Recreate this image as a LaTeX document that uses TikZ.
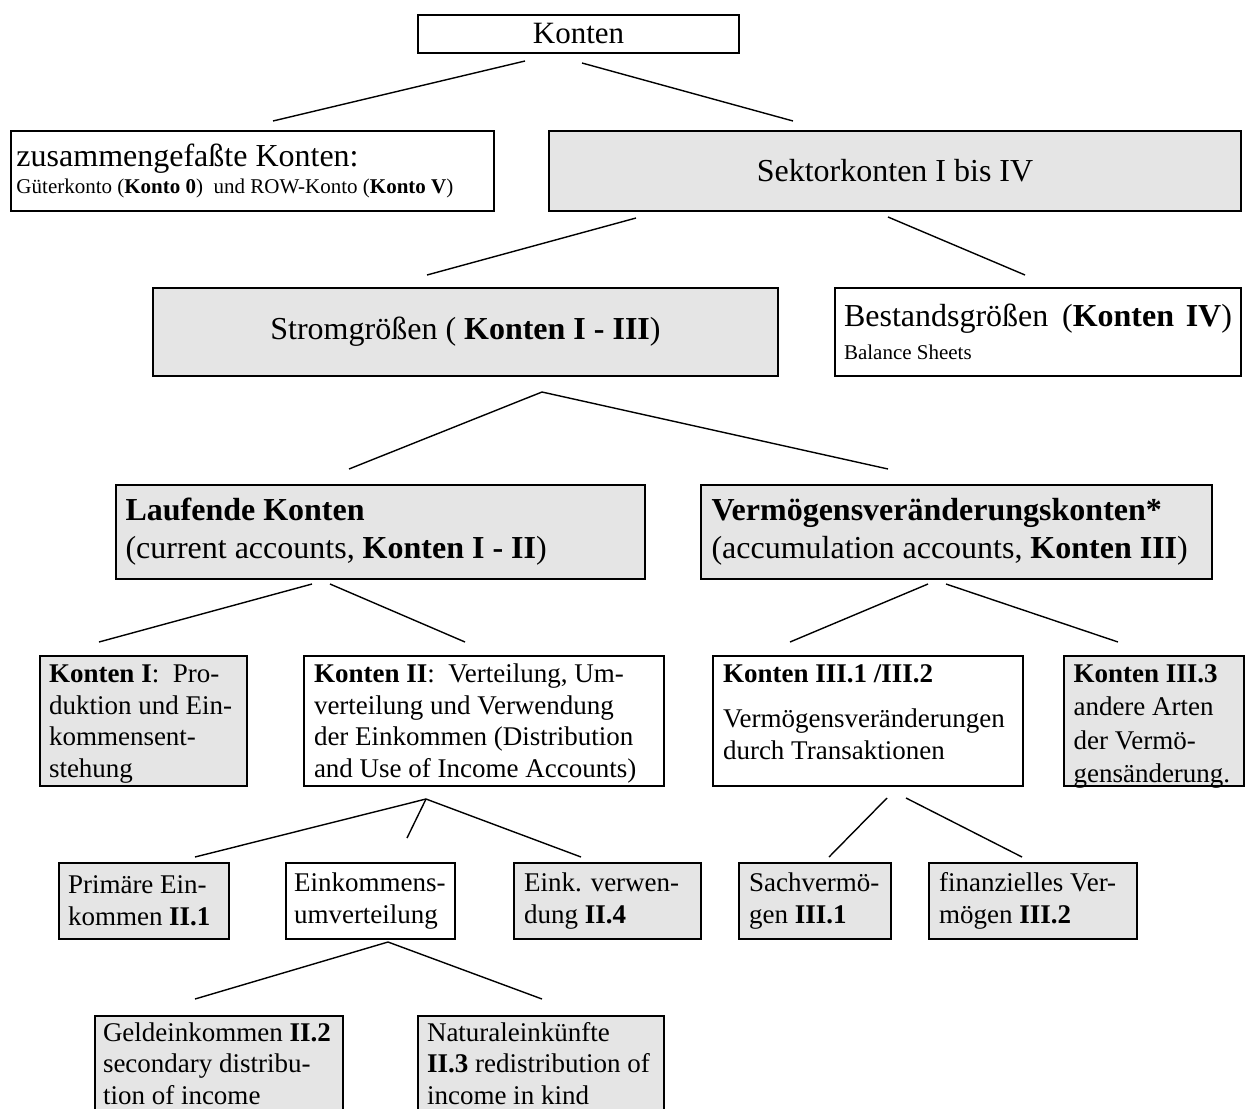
\documentclass[tikz,border=0pt]{standalone}
\usepackage{fontspec}
\setmainfont{Liberation Serif}
\definecolor{boxgray}{RGB}{229,229,229}
\newcommand\nsp{\spaceskip=0pt\xspaceskip=0pt\relax}
\begin{document}
\begin{tikzpicture}[x=0.5pt,y=-0.5pt,
  box/.style={draw=black, line width=1pt, inner sep=0pt, anchor=north west, align=flush left},
  gbox/.style={box, fill=boxgray},
  sz/.style 2 args={minimum width=#1pt, minimum height=#2pt},
  big/.style={font=\fontsize{16}{19}\selectfont},
  body/.style={font=\fontsize{13.5}{15.85}\selectfont},
  conn/.style={line width=0.7pt},
]
\useasboundingbox (0,0) rectangle (1245,1108);
\clip (0,0) rectangle (1245,1108);

% ---------- boxes ----------
\node[box, sz={160.5}{19}, align=center, font=\fontsize{15.5}{18}\selectfont] (konten) at (417,14) {Konten};

\node[box, sz={241.5}{40}, text width=236pt, font=\fontsize{10.5}{13.5}\selectfont] (zus) at (10,130)
  {\nsp{\fontsize{16}{19}\selectfont zusammengefaßte Konten:}\\Güterkonto (\textbf{Konto 0})\ \ und ROW-Konto (\textbf{Konto V})};

\node[gbox, sz={346}{40}, big, align=center] (sektor) at (548,130) {Sektorkonten I bis IV};

\node[gbox, sz={312.5}{44}, big, align=center] (strom) at (152,287) {Stromgrößen ( \textbf{Konten I - III})};

\node[box, sz={203}{44}, text width=194pt, font=\fontsize{10.5}{16.5}\selectfont] (bestand) at (834,287)
  {\nsp{\fontsize{16}{19}\selectfont Bestandsgrößen\hspace{3pt} (\textbf{Konten\hspace{2pt} IV})}\\Balance Sheets};

\node[gbox, sz={264.5}{47}, text width=255pt, big] (lauf) at (115,484)
  {\nsp\textbf{Laufende Konten}\\(current accounts, \textbf{Konten I - II})};

\node[gbox, sz={255.5}{47}, text width=245pt, big] (verm) at (700,484)
  {\nsp\textbf{Vermögensveränderungskonten*}\\(accumulation accounts, \textbf{Konten III})};

\node[gbox, sz={103.5}{65}, text width=94.5pt, text height=12pt, body] (k1) at (39,655)
  {\nsp\textbf{Konten I}:\ \ Pro-\\duktion und Ein-\\kommensent-\\stehung};

\node[box, sz={180}{65}, text width=170pt, text height=12pt, body] (k2) at (303,655)
  {\nsp\textbf{Konten II}:\ \ Verteilung, Um-\\verteilung und Verwendung\\der Einkommen (Distribution\\and Use of Income Accounts)};

\node[box, sz={155}{65}, text width=145pt, text depth=47.3pt, body] (k31) at (712,655)
  {\nsp\textbf{Konten III.1 /III.2}\\[6.5pt]Vermögensveränderungen\\durch Transaktionen};

\node[gbox, sz={90}{65}, text width=80.5pt, text depth=47.3pt, font=\fontsize{13.5}{16.65}\selectfont] (k33) at (1063,655)
  {\nsp\textbf{Konten III.3}\\andere Arten\\der Vermö-\\gensänderung.};

\node[gbox, sz={85}{38}, text width=76pt, body] (prim) at (58,862)
  {\nsp Primäre Ein-\\kommen \textbf{II.1}};

\node[box, sz={84.5}{38}, text width=76.5pt, body] (eum) at (285,862)
  {\nsp Einkommens-\\umverteilung};

\node[gbox, sz={93.5}{38}, text width=83.5pt, body] (everw) at (513,862)
  {\nsp Eink. verwen-\\dung \textbf{II.4}};

\node[gbox, sz={76}{38}, text width=66pt, body] (sach) at (738,862)
  {\nsp Sachvermö-\\gen \textbf{III.1}};

\node[gbox, sz={104}{38}, text width=94pt, body] (fin) at (928,862)
  {\nsp finanzielles Ver-\\mögen \textbf{III.2}};

\node[gbox, sz={124}{52.5}, text width=116pt, text depth=36.8pt, body] (geld) at (94,1015)
  {\nsp Geldeinkommen \textbf{II.2}\\secondary distribu-\\tion of income};

\node[gbox, sz={123}{52.5}, text width=114pt, text depth=36.8pt, body] (natur) at (417,1015)
  {\nsp Naturaleinkünfte\\\textbf{II.3} redistribution of\\income in kind};

% ---------- connector ends ----------
\coordinate (konten-l) at (525,61);  \coordinate (zus-t) at (273,121);
\coordinate (konten-r) at (582,63);  \coordinate (sektor-t) at (793,121);
\coordinate (sektor-l) at (636,218); \coordinate (strom-t) at (427,275);
\coordinate (sektor-r) at (888,217); \coordinate (bestand-t) at (1025,275);
\coordinate (strom-b) at (542,392);  \coordinate (lauf-t) at (349,469);
\coordinate (verm-t) at (888,469);
\coordinate (lauf-l) at (312,584);   \coordinate (k1-t) at (99,642);
\coordinate (lauf-r) at (330,584);   \coordinate (k2-t) at (465,642);
\coordinate (verm-l) at (928,584);   \coordinate (k31-t) at (790,642);
\coordinate (verm-r) at (946,584);   \coordinate (k33-t) at (1118,642);
\coordinate (k2-b) at (426,799);     \coordinate (prim-t) at (195,857);
\coordinate (eum-t) at (407,838);    \coordinate (everw-t) at (581,857);
\coordinate (k31-l) at (887,798);    \coordinate (sach-t) at (829,857);
\coordinate (k31-r) at (906,798);    \coordinate (fin-t) at (1022,857);
\coordinate (eum-b) at (388,942);    \coordinate (geld-t) at (195,999);
\coordinate (natur-t) at (542,999);

% ---------- connectors ----------
\draw[conn] (konten-l) -- (zus-t);
\draw[conn] (konten-r) -- (sektor-t);
\draw[conn] (sektor-l) -- (strom-t);
\draw[conn] (sektor-r) -- (bestand-t);
\draw[conn] (strom-b) -- (lauf-t);
\draw[conn] (strom-b) -- (verm-t);
\draw[conn] (lauf-l) -- (k1-t);
\draw[conn] (lauf-r) -- (k2-t);
\draw[conn] (verm-l) -- (k31-t);
\draw[conn] (verm-r) -- (k33-t);
\draw[conn] (k2-b) -- (prim-t);
\draw[conn] (k2-b) -- (eum-t);
\draw[conn] (k2-b) -- (everw-t);
\draw[conn] (k31-l) -- (sach-t);
\draw[conn] (k31-r) -- (fin-t);
\draw[conn] (eum-b) -- (geld-t);
\draw[conn] (eum-b) -- (natur-t);
\end{tikzpicture}
\end{document}
